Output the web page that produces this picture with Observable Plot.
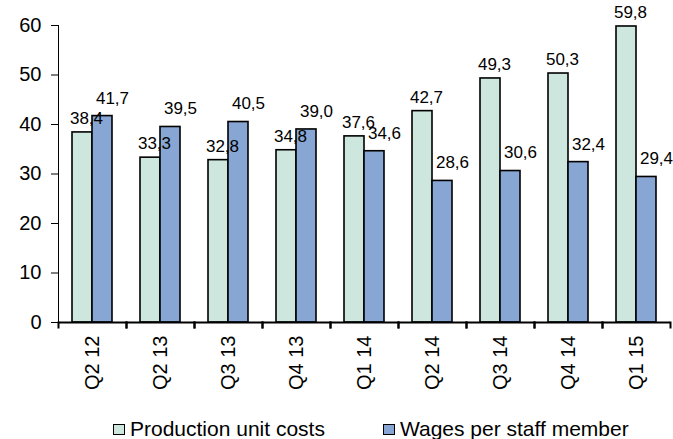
<!DOCTYPE html>
<html><head><meta charset="utf-8">
<script src="https://cdn.jsdelivr.net/npm/d3@7"></script>
<script src="https://cdn.jsdelivr.net/npm/@observablehq/plot@0.6"></script>
<style>
body{margin:0;background:#fff;font-family:"Liberation Sans",Arial,sans-serif;overflow:hidden}
#legend{display:flex;align-items:center;height:20px;margin-top:0px;font-size:21px;line-height:20px;color:#000;padding-left:113px;white-space:nowrap}
.item{display:flex;align-items:center}
.sw{width:10px;height:9px;border:1.5px solid #000;margin-right:5px}
</style></head><body><div id="chart"></div><div id="legend"></div>
<script>
const quarters = ["Q2 12","Q2 13","Q3 13","Q4 13","Q1 14","Q2 14","Q3 14","Q4 14","Q1 15"];
const seriesNames = ["Production unit costs","Wages per staff member"];
const productionCosts = [38.4,33.3,32.8,34.8,37.6,42.7,49.3,50.3,59.8];
const wages = [41.7,39.5,40.5,39.0,34.6,28.6,30.6,32.4,29.4];
const yTicks = [0,10,20,30,40,50,60];
const colors = ["#cde6de","#87a6d3"];

const data = [];
quarters.forEach((q,i)=>{
  data.push({q, s: seriesNames[0], v: productionCosts[i]});
  data.push({q, s: seriesNames[1], v: wages[i]});
});
const fmt = v => v.toFixed(1).replace(".", ",");

const W = 673, H = 419, mT = 25, mB = 97, mL = 55, mR = 1;
const plotH = H - mT - mB;

const chart = Plot.plot({
  width: W, height: H,
  marginTop: mT, marginBottom: mB, marginLeft: mL, marginRight: mR,
  style: {fontFamily: "Liberation Sans, Arial, sans-serif", fontSize: "20px", color: "#000", background: "#fff"},
  fx: {domain: quarters, padding: 0, axis: null},
  x: {domain: seriesNames, paddingInner: 0, paddingOuter: 0.63, axis: null},
  y: {domain: [0, 60], ticks: yTicks, tickSize: 7, tickPadding: 10, line: true, label: null},
  color: {domain: seriesNames, range: colors},
  marks: [
    Plot.barY(data, {fx: "q", x: "s", y: "v", fill: "s", stroke: "#000", strokeWidth: 1.6}),
    Plot.ruleY([0], {stroke: "#000", strokeWidth: 2}),
    Plot.frame({anchor: "left", insetTop: plotH, insetBottom: -5, stroke: "#000", strokeWidth: 2}),
    Plot.frame({anchor: "right", insetTop: plotH, insetBottom: -5, stroke: "#000", strokeWidth: 2}),
    Plot.text(data.filter(d => d.s === seriesNames[0]), {fx: "q", x: "s", y: "v", text: d => fmt(d.v), dx: 4, dy: -14, fontSize: 17}),
    Plot.text(data.filter(d => d.s === seriesNames[1]), {fx: "q", x: "s", y: "v", text: d => fmt(d.v), dx: 10, dy: -18, fontSize: 17}),
    Plot.axisFx({domain: quarters, anchor: "bottom", tickRotate: -90, tickSize: 0, tickPadding: 13, fontSize: 20, label: null})
  ]
});
document.getElementById("chart").appendChild(chart);

const legend = document.getElementById("legend");
seriesNames.forEach((name, i) => {
  const it = document.createElement("div");
  it.className = "item";
  if (i === 1) it.style.marginLeft = "58px";
  const sw = document.createElement("span");
  sw.className = "sw";
  sw.style.background = colors[i];
  const tx = document.createElement("span");
  tx.textContent = name;
  it.appendChild(sw); it.appendChild(tx);
  legend.appendChild(it);
});
</script></body></html>
